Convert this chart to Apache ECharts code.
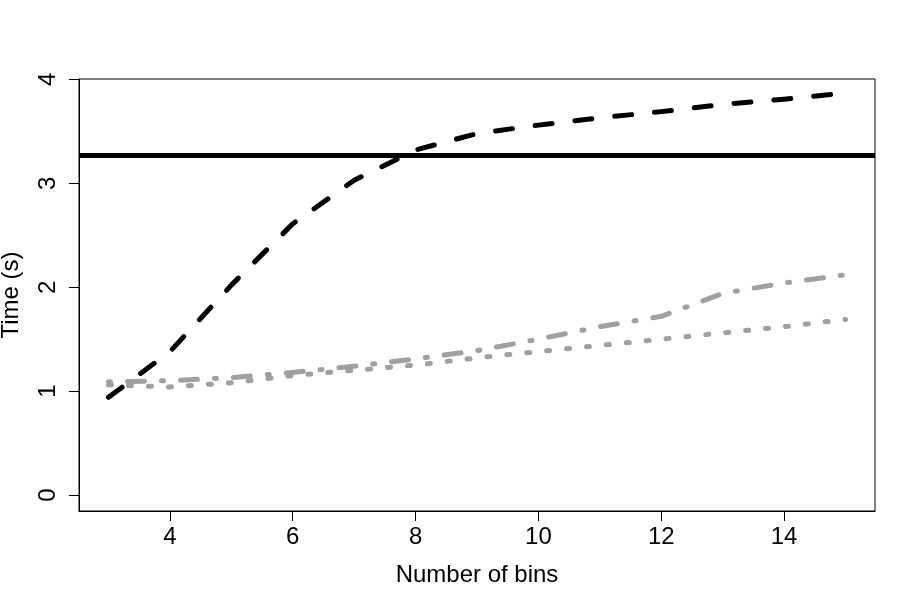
<!DOCTYPE html>
<html>
<head>
<meta charset="utf-8">
<script src="https://cdn.jsdelivr.net/npm/echarts@6/dist/echarts.min.js"></script>
<style>
html,body{margin:0;padding:0;background:#fff;}
#chart{width:915px;height:609px;}
</style>
</head>
<body>
<div id="chart"></div>
<script>
// ---- data ----
const bins = [3, 4, 5, 6, 7, 8, 9, 10, 11, 12, 13, 14, 15];
const dashedBlack = [0.94, 1.38, 2.02, 2.61, 3.03, 3.32, 3.48, 3.56, 3.63, 3.69, 3.76, 3.81, 3.87];
const dotDashGray = [1.09, 1.10, 1.13, 1.18, 1.24, 1.31, 1.39, 1.50, 1.62, 1.72, 1.94, 2.04, 2.12];
const dottedGray = [1.06, 1.04, 1.08, 1.15, 1.20, 1.25, 1.32, 1.38, 1.44, 1.50, 1.56, 1.62, 1.69];
const referenceTime = 3.27;
const xTicks = [4, 6, 8, 10, 12, 14];
const yTicks = [0, 1, 2, 3, 4];
const xTitle = 'Number of bins';
const yTitle = 'Time (s)';

const pairs = (ys) => bins.map((b, i) => [b, ys[i]]);
const FONT = 'Liberation Sans';
const FS = 24;
const GRAY = '#a0a0a0';

const chart = echarts.init(document.getElementById('chart'), null, {renderer: 'canvas'});
chart.setOption({
  animation: false,
  backgroundColor: '#fff',
  textStyle: {fontFamily: FONT},
  grid: {left: 79, right: 40, top: 79, bottom: 98, show: true, borderColor: '#000', borderWidth: 1,
         containLabel: false, outerBoundsMode: 'none'},
  xAxis: {
    type: 'value', min: 2.52, max: 15.48,
    name: xTitle, nameLocation: 'middle', nameGap: 52,
    nameTextStyle: {fontSize: FS, color: '#000', fontFamily: FONT},
    axisLine: {show: true, onZero: false, lineStyle: {color: '#000', width: 1}},
    axisTick: {show: true, inside: false, length: 10, lineStyle: {color: '#000', width: 1}, customValues: xTicks},
    axisLabel: {show: true, margin: 14, fontSize: FS, color: '#000', fontFamily: FONT, customValues: xTicks},
    splitLine: {show: false}
  },
  yAxis: {
    type: 'value', min: -0.154, max: 4.004,
    name: yTitle, nameLocation: 'middle', nameGap: 56, nameRotate: 90,
    nameTextStyle: {fontSize: FS, color: '#000', fontFamily: FONT},
    axisLine: {show: true, onZero: false, lineStyle: {color: '#000', width: 1}},
    axisTick: {show: true, inside: false, length: 10, lineStyle: {color: '#000', width: 1}, customValues: yTicks},
    axisLabel: {show: true, margin: 19, rotate: 90, fontSize: FS, color: '#000', fontFamily: FONT, customValues: yTicks},
    splitLine: {show: false}
  },
  series: [
    {
      type: 'line', data: pairs(dotDashGray), showSymbol: false, symbol: 'none', smooth: false, z: 2,
      lineStyle: {color: GRAY, width: 5, type: [2, 17, 17, 17], cap: 'round', join: 'round'}
    },
    {
      type: 'line', data: pairs(dottedGray), showSymbol: false, symbol: 'none', smooth: false, z: 2,
      lineStyle: {color: GRAY, width: 5, type: [3, 17], cap: 'round', join: 'round'}
    },
    {
      type: 'line', data: pairs(dashedBlack), showSymbol: false, symbol: 'none', smooth: false, z: 3,
      lineStyle: {color: '#000', width: 5, type: [17, 23], cap: 'round', join: 'round'},
      markLine: {
        silent: true, symbol: ['none', 'none'], label: {show: false},
        lineStyle: {color: '#000', width: 5, type: 'solid'},
        data: [{yAxis: referenceTime}]
      }
    }
  ]
});
</script>
</body>
</html>
